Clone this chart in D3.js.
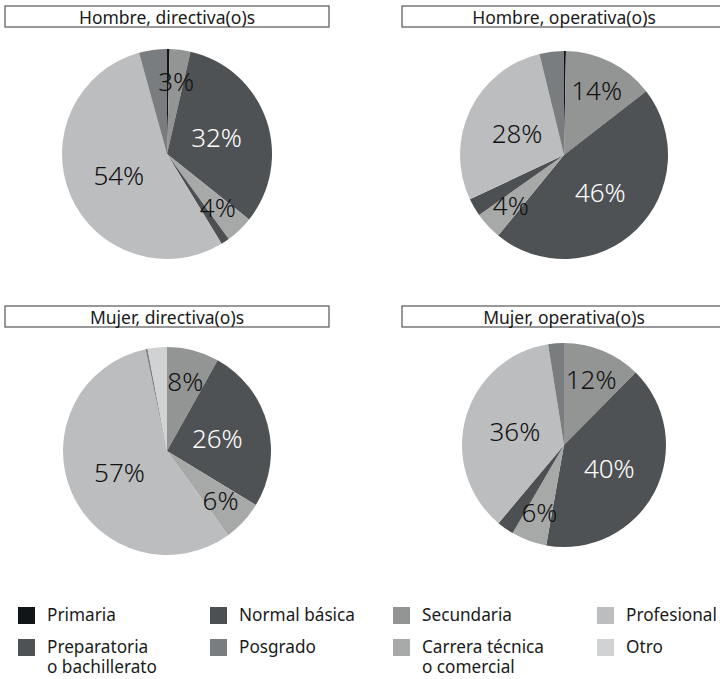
<!DOCTYPE html>
<html>
<head>
<meta charset="utf-8">
<script src="https://cdn.jsdelivr.net/npm/d3@7"></script>
<style>
  html, body { margin: 0; padding: 0; background: #fff; }
  svg { display: block; font-family: "Noto Sans", "Open Sans", sans-serif; }
</style>
</head>
<body>
<svg id="chart" width="720" height="679"></svg>
<script>
// ---- data ----
const categories = [
  "Primaria",
  "Secundaria",
  "Preparatoria o bachillerato",
  "Carrera técnica o comercial",
  "Normal básica",
  "Profesional",
  "Posgrado",
  "Otro"
];
const panelTitles = [
  "Hombre, directiva(o)s",
  "Hombre, operativa(o)s",
  "Mujer, directiva(o)s",
  "Mujer, operativa(o)s"
];
// percentages per category (same order as categories)
const hombreDirectiva = [0.4, 3.2, 32.1, 4.3, 1.3, 54.4, 4.3, 0];
const hombreOperativa = [0.3, 14.2, 46.4, 4.3, 2.8, 28.2, 3.8, 0];
const mujerDirectiva  = [0, 8.1, 25.6, 6.3, 0, 56.7, 0.3, 3.0];
const mujerOperativa  = [0, 12.4, 40.4, 5.6, 2.7, 36.4, 2.5, 0];
const labeledCategories = ["Secundaria", "Preparatoria o bachillerato", "Carrera técnica o comercial", "Profesional"];

// legend order (4 columns x 2 rows)
const legendOrder = [
  "Primaria", "Normal básica", "Secundaria", "Profesional",
  "Preparatoria o bachillerato", "Posgrado", "Carrera técnica o comercial", "Otro"
];
const legendLines = {
  "Preparatoria o bachillerato": ["Preparatoria", "o bachillerato"],
  "Carrera técnica o comercial": ["Carrera técnica", "o comercial"]
};

// ---- styling / layout ----
const palette = ["#121518", "#939594", "#4f5254", "#a7a9a9", "#4d5052", "#bcbdbf", "#7a7d80", "#d1d2d3"];
const color = d3.scaleOrdinal().domain(categories).range(palette);
const darkCats = ["Primaria", "Preparatoria o bachillerato", "Normal básica"];

const panels = [
  { title: panelTitles[0], values: hombreDirectiva, cx: 167, cy: 154, r: 105, boxY: 6 },
  { title: panelTitles[1], values: hombreOperativa, cx: 564, cy: 155, r: 104, boxY: 6 },
  { title: panelTitles[2], values: mujerDirectiva,  cx: 167, cy: 451, r: 104, boxY: 306 },
  { title: panelTitles[3], values: mujerOperativa,  cx: 564, cy: 445, r: 102, boxY: 306 }
];

const svg = d3.select("#chart");

const pie = d3.pie().sort(null).value(d => d.value);

panels.forEach(p => {
  const data = categories.map((c, i) => ({ cat: c, value: p.values[i] }));
  const arcs = pie(data);

  // title box
  svg.append("rect")
    .attr("x", p.cx - 162).attr("y", p.boxY)
    .attr("width", 324).attr("height", 21)
    .attr("fill", "#fff").attr("stroke", "#555").attr("stroke-width", 1.2);
  svg.append("text")
    .attr("x", p.cx).attr("y", p.boxY + 10.5)
    .attr("text-anchor", "middle").attr("dominant-baseline", "central")
    .attr("font-size", 17.5).attr("fill", "#1a1a1a")
    .text(p.title);

  const g = svg.append("g").attr("transform", `translate(${p.cx},${p.cy})`);
  const arc = d3.arc().innerRadius(0).outerRadius(p.r);

  g.selectAll("path.slice")
    .data(arcs.filter(a => a.data.value > 0))
    .join("path")
    .attr("class", "slice")
    .attr("d", arc)
    .attr("fill", d => color(d.data.cat));

  const total = d3.sum(data, d => d.value);
  g.selectAll("text.lbl")
    .data(arcs.filter(a => labeledCategories.includes(a.data.cat) && a.data.value > 0))
    .join("text")
    .attr("class", "lbl")
    .attr("transform", d => {
      const share = d.data.value / total;
      const rr = share >= 0.2 ? p.r * 0.5 : p.r * 0.7;
      const c = d3.arc().innerRadius(rr).outerRadius(rr).centroid(d);
      return `translate(${c[0]},${c[1]})`;
    })
    .attr("text-anchor", "middle").attr("dominant-baseline", "central")
    .attr("font-size", 26).attr("font-weight", 300)
    .attr("fill", d => darkCats.includes(d.data.cat) ? "#ffffff" : "#111")
    .text(d => Math.round(d.data.value / total * 100) + "%");
});

// ---- legend ----
const colX = [18, 210, 393, 597];
const rowY = [607, 639];
const legend = svg.append("g");
legendOrder.forEach((cat, i) => {
  const col = i % 4, row = Math.floor(i / 4);
  const x = colX[col], y = rowY[row];
  legend.append("rect")
    .attr("x", x).attr("y", y).attr("width", 17).attr("height", 17)
    .attr("fill", color(cat));
  const lines = legendLines[cat] || [cat];
  lines.forEach((ln, j) => {
    legend.append("text")
      .attr("x", x + 29).attr("y", y + 14 + j * 19.5)
      .attr("font-size", 17.2).attr("fill", "#1a1a1a")
      .text(ln);
  });
});
</script>
</body>
</html>
